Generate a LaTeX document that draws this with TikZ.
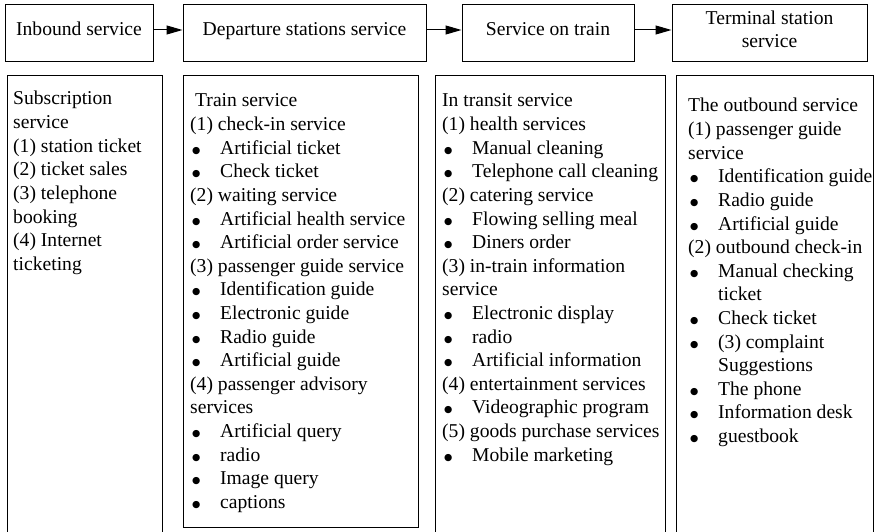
\documentclass[tikz,border=0pt]{standalone}
\usepackage{fontspec}
\setmainfont{Liberation Serif}
\newfontfamily\symfont{DejaVu Sans}
\usetikzlibrary{arrows.meta,calc}
\newcommand{\bl}[1]{\makebox[30pt][l]{\hspace{2pt}\raisebox{1pt}{\symfont\fontsize{9.5}{10}\selectfont ●}}#1}
\newcommand{\ind}[1]{\hspace*{30pt}#1}
\begin{document}
\begin{tikzpicture}[x=1pt,y=-1pt,
  font=\fontsize{19.6}{23.6}\selectfont,
  hbox/.style={draw, line width=1pt, minimum height=57pt, inner sep=0pt, text height=14pt, text depth=9pt},
  panel/.style={draw, line width=1pt, anchor=north west, inner sep=0pt},
  txt/.style={anchor=base west, inner sep=0pt},
  flow/.style={line width=1pt, -{Triangle[length=16pt,width=9pt]}}]
\clip (0,0) rectangle (875,532);
% top flow
\node[hbox, minimum width=148pt] (b1) at (79,33.5) {Inbound service};
\node[hbox, minimum width=243pt] (b2) at (304.5,33.5) {Departure stations service};
\node[hbox, minimum width=172pt] (b3) at (548,33.5) {Service on train};
\node[hbox, minimum width=195pt, align=center, text height=37.4pt] (b4) at (769.5,33.5) {Terminal station\\service};
\draw[flow] ([yshift=3.5pt]b1.east) -- ([yshift=3.5pt]b2.west);
\draw[flow] ([yshift=3.5pt]b2.east) -- ([yshift=3.5pt]b3.west);
\draw[flow] ([yshift=3.5pt]b3.east) -- ([yshift=3.5pt]b4.west);
% panels
\node[panel, minimum width=155pt, minimum height=470pt] (pA) at (7,75) {};
\node[panel, minimum width=235pt, minimum height=452pt] (pB) at (183,75) {};
\node[panel, minimum width=230pt, minimum height=470pt] (pC) at (435,75) {};
\node[panel, minimum width=197pt, minimum height=470pt] (pD) at (676,75) {};
% panel A
\foreach \t [count=\i from 0] in {Subscription, service, {(1) station ticket}, {(2) ticket sales}, {(3) telephone}, booking, {(4) Internet}, ticketing}
  \node[txt] (tA\i) at ($(pA.north west)+(6,{30+\i*23.6})$) {\t};
% panel B
\foreach \t [count=\i from 0] in {{\hspace*{5pt}Train service}, {(1) check-in service}, {\bl{Artificial ticket}}, {\bl{Check ticket}}, {(2) waiting service}, {\bl{Artificial health service}}, {\bl{Artificial order service}}, {(3) passenger guide service}, {\bl{Identification guide}}, {\bl{Electronic guide}}, {\bl{Radio guide}}, {\bl{Artificial guide}}, {(4) passenger advisory}, services, {\bl{Artificial query}}, {\bl{radio}}, {\bl{Image query}}, {\bl{captions}}}
  \node[txt] (tB\i) at ($(pB.north west)+(7,{32+\i*23.6})$) {\t};
% panel C
\foreach \t [count=\i from 0] in {{In transit service}, {(1) health services}, {\bl{Manual cleaning}}, {\bl{Telephone call cleaning}}, {(2) catering service}, {\bl{Flowing selling meal}}, {\bl{Diners order}}, {(3) in-train information}, service, {\bl{Electronic display}}, {\bl{radio}}, {\bl{Artificial information}}, {(4) entertainment services}, {\bl{Videographic program}}, {(5) goods purchase services}, {\bl{Mobile marketing}}}
  \node[txt] (tC\i) at ($(pC.north west)+(7,{32+\i*23.6})$) {\t};
% panel D
\foreach \t [count=\i from 0] in {{The outbound service}, {(1) passenger guide}, service, {\bl{Identification guide}}, {\bl{Radio guide}}, {\bl{Artificial guide}}, {(2) outbound check-in}, {\bl{Manual checking}}, {\ind{ticket}}, {\bl{Check ticket}}, {\bl{(3) complaint}}, {\ind{Suggestions}}, {\bl{The phone}}, {\bl{Information desk}}, {\bl{guestbook}}}
  \node[txt] (tD\i) at ($(pD.north west)+(12,{37+\i*23.6})$) {\t};
\end{tikzpicture}
\end{document}
